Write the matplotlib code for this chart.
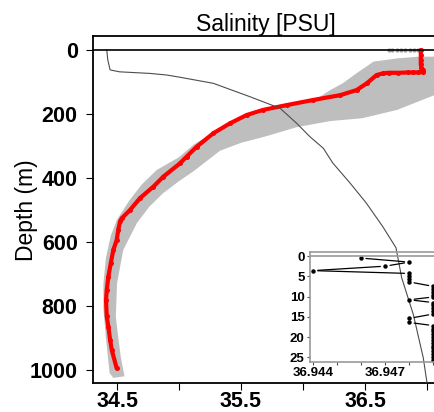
import numpy as np
import matplotlib
matplotlib.use("Agg")
import matplotlib.pyplot as plt

plt.rcParams['font.family'] = ['Liberation Sans', 'DejaVu Sans']

# --- data ---
# red profile (salinity, depth m)
red_sal = [36.95, 36.95, 36.95, 36.95, 36.955, 36.97, 36.97, 36.93, 36.89, 36.85, 36.77, 36.69,
           36.645, 36.594, 36.514, 36.433, 36.30, 36.083, 35.869, 35.68, 35.546, 35.411, 35.277,
           35.143, 35.062, 35.008, 34.873, 34.793, 34.685, 34.605, 34.538, 34.524, 34.51, 34.497,
           34.47, 34.449, 34.43, 34.417, 34.411, 34.417, 34.43, 34.444, 34.457, 34.497]
red_dep = [0, 15, 30, 45, 55, 62, 69, 70, 70, 70, 71, 71,
           73, 78, 104, 125, 141, 156, 172, 187, 203, 229, 260,
           302, 333, 354, 396, 427, 463, 500, 526, 536, 562, 594,
           625, 667, 708, 750, 781, 833, 865, 906, 937, 995]

# gray envelope, left (shallow side) edge and right edge
env_lo_sal = [37.2, 36.92, 36.76, 36.57, 36.43, 36.32, 36.22, 36.08, 35.815, 35.548, 35.4, 35.274,
              35.12, 35.0, 34.82, 34.7, 34.6, 34.5, 34.45, 34.41, 34.39, 34.39, 34.41, 34.44, 34.47]
env_lo_dep = [20, 21, 26, 36, 73, 104, 125, 160, 181, 208, 230, 259,
              295, 335, 375, 420, 470, 530, 580, 650, 730, 810, 900, 1010, 1025]
env_hi_sal = [34.56, 34.53, 34.51, 34.49, 34.5, 34.55, 34.66, 34.76, 34.87, 35.0, 35.12, 35.33,
              35.5, 35.68, 35.95, 36.22, 36.48, 36.76, 37.06, 37.2]
env_hi_dep = [1020, 960, 900, 833, 729, 625, 541, 490, 448, 410, 378, 315,
              290, 272, 241, 222, 213, 187, 141, 130]

# gray surface dots
surf_sal = [36.69, 36.72, 36.755, 36.79, 36.825, 36.86, 36.895, 36.93]
surf_dep = [0, 0, 0, 0, 0, 0, 0, 0]

# thin reference profile
ref_sal = [34.417, 34.425, 34.444, 34.52, 34.766, 34.9, 35.008, 35.277, 35.573, 35.815, 35.949,
           36.056, 36.164, 36.24, 36.38, 36.51, 36.645, 36.75, 36.796, 36.89, 36.97, 37.0]
ref_dep = [0, 30, 62, 68, 73, 78, 85, 104, 146, 182, 229,
           271, 307, 353, 416, 478, 553, 618, 712, 827, 962, 1040]

# inset: top 25 m
ins_sal = [36.946, 36.948, 36.947, 36.944, 36.948, 36.948, 36.948, 36.948,
           36.949, 36.949, 36.949, 36.949, 36.949, 36.948,
           36.949, 36.949, 36.949, 36.949, 36.949, 36.948, 36.948,
           36.949, 36.949, 36.949, 36.949, 36.949, 36.949, 36.949, 36.949, 36.949, 36.949,
           36.949, 36.949, 36.949]
ins_dep = [0.5, 1.5, 2.5, 3.6, 4.3, 5.0, 5.7, 6.4,
           7.5, 8.2, 8.9, 9.6, 10.1, 10.8,
           11.5, 12.2, 12.9, 13.6, 14.3, 15.4, 16.4,
           17.2, 17.9, 18.6, 19.3, 20.0, 20.7, 21.4, 22.1, 22.8, 23.5,
           24.2, 24.9, 25.6]

xticks = [34.5, 35.0, 35.5, 36.0, 36.5, 37.0]
xlabels = ['34.5', '', '35.5', '', '36.5', '']
yticks = [0, 200, 400, 600, 800, 1000]
ins_xticks = [36.944, 36.945, 36.946, 36.947, 36.948, 36.949]
ins_xlabels = ['36.944', '', '', '36.947', '', '']
ins_yticks = [0, 5, 10, 15, 20, 25]

W, H = 434, 412
fig = plt.figure(figsize=(W / 100, H / 100), dpi=100)

ax = fig.add_axes([93 / W, 1 - 383 / H, (439 - 93) / W, (383 - 36) / H])
ax.fill(env_lo_sal + env_hi_sal, env_lo_dep + env_hi_dep, color='#bebebe', lw=0, zorder=1)
ax.plot(surf_sal, surf_dep, 'o', color='#999999', ms=2, zorder=1.5)
ax.plot(red_sal, red_dep, '-', color='red', lw=3.0, zorder=2, solid_capstyle='round')
ax.plot(red_sal, red_dep, 'o', color='red', ms=3.6, mec='none', zorder=2)
ax.plot(ref_sal, ref_dep, '-', color='0.3', lw=0.8, zorder=3)
ax.axhline(0, color='black', lw=1.2, zorder=4)

ax.set_xlim(34.306, 37.097)
ax.set_ylim(1041, -44)
ax.set_xticks(xticks)
ax.set_xticklabels(xlabels)
ax.set_yticks(yticks)
ax.tick_params(direction='out', length=5, width=0.8, labelsize=15.5, pad=0.5)
ax.tick_params(axis='y', pad=6)
for lab in ax.get_xticklabels() + ax.get_yticklabels():
    lab.set_fontweight('bold')
for s in ax.spines.values():
    s.set_linewidth(1.3)
ax.set_title('Salinity [PSU]', fontsize=16.5, pad=3)
fig.text(26 / W, 1 - 210 / H, 'Depth (m)', rotation=90, ha='center', va='center', fontsize=16.5)

# inset
axi = fig.add_axes([309.5 / W, 1 - 361.7 / H, (439 - 309.5) / W, (361.7 - 252) / H])
axi.set_facecolor('none')
axi.plot(ins_sal, ins_dep, 'o', color='black', ms=3.2, mec='none')
for i in range(len(ins_sal) - 1):
    if ins_sal[i] == ins_sal[i + 1]:
        continue
    axi.annotate('', xy=(ins_sal[i + 1], ins_dep[i + 1]), xytext=(ins_sal[i], ins_dep[i]),
                 arrowprops=dict(arrowstyle='-', color='black', lw=0.9, shrinkA=3.5, shrinkB=3.5))
axi.axhline(0, color='0.6', lw=1.2)
axi.set_xlim(36.94386, 36.94923)
axi.set_ylim(26.1, -1.0)
axi.set_xticks(ins_xticks)
axi.set_xticklabels(ins_xlabels)
axi.set_yticks(ins_yticks)
axi.tick_params(direction='out', length=2.5, width=0.8, labelsize=9.5, pad=1, color='0.3')
for lab in axi.get_xticklabels() + axi.get_yticklabels():
    lab.set_fontweight('bold')
for s in axi.spines.values():
    s.set_linewidth(1.2)
    s.set_color('0.6')

fig.savefig('out.png', dpi=100)
